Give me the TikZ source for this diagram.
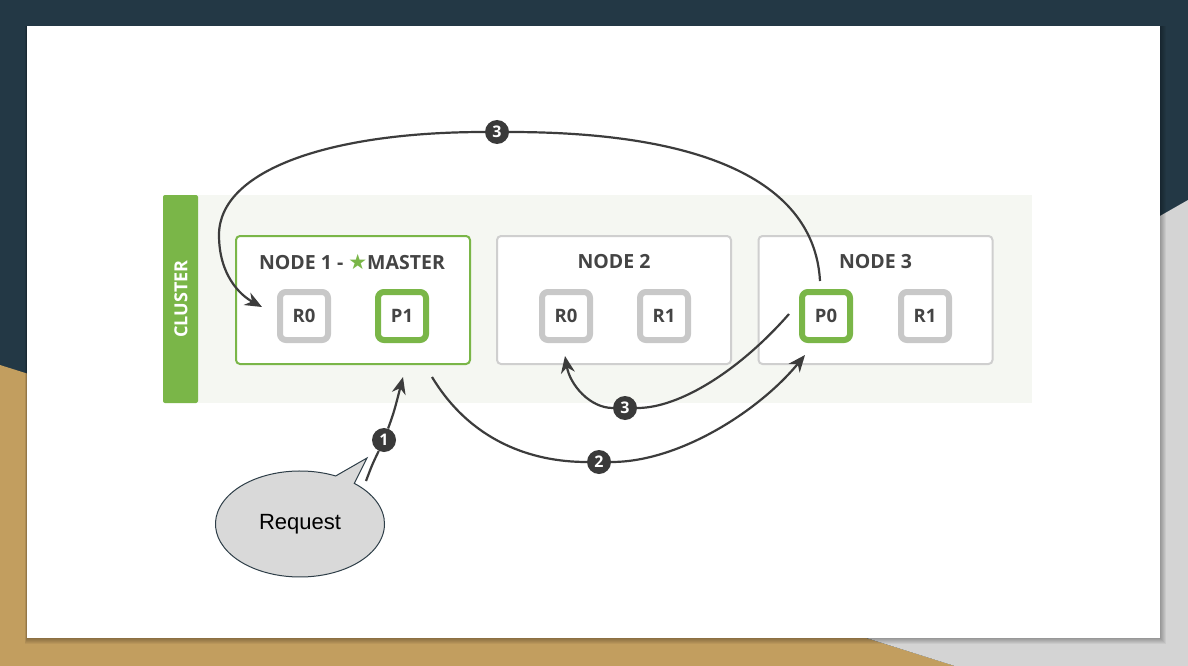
\documentclass[tikz,border=0pt]{standalone}
\usepackage{fontspec}
\setmainfont{Open Sans}
\newfontfamily\reqfont{Liberation Sans}
\newfontfamily\symfont{DejaVu Sans}
\usetikzlibrary{arrows.meta,shapes.callouts}

\definecolor{slidenavy}{HTML}{233845}
\definecolor{slidetan}{HTML}{C29E5F}
\definecolor{slidegray}{HTML}{D4D4D4}
\definecolor{elgreen}{HTML}{7AB648}
\definecolor{boxgray}{HTML}{CFCFCF}
\definecolor{shardgray}{HTML}{C8C8C8}
\definecolor{textgray}{HTML}{444444}
\definecolor{arrowgray}{HTML}{3C3C3C}
\definecolor{badgegray}{HTML}{3A3A3A}
\definecolor{stripbg}{HTML}{F5F7F2}
\definecolor{bubble}{HTML}{D9D9D9}
\definecolor{bubbleline}{HTML}{2E3E48}

\begin{document}
\begin{tikzpicture}[x=1pt, y=-1pt,
  nodebox/.style={draw=boxgray, line width=2pt, fill=white, rounded corners=4pt,
                  minimum width=234pt, minimum height=128pt},
  shard/.style={draw=shardgray, line width=6pt, fill=white, rounded corners=6pt,
                minimum size=48pt, inner sep=0pt, text=textgray,
                font=\bfseries\fontsize{18.5}{18.5}\selectfont},
  primary/.style={shard, draw=elgreen},
  title/.style={text=textgray, font=\bfseries\fontsize{19.5}{19.5}\selectfont},
  badge/.style={circle, fill=badgegray, text=white, inner sep=0pt, minimum size=24pt,
                font=\bfseries\fontsize{16}{16}\selectfont},
  flow/.style={draw=arrowgray, line width=2.2pt, -{Stealth[length=17pt, width=14pt]}}]
  \useasboundingbox (0,0) rectangle (1188,666);

  % slide background
  \fill[slidenavy] (0,0) rectangle (1188,666);
  \fill[slidetan] (0,365) -- (955,666) -- (0,666) -- cycle;
  \fill[slidegray] (1188,200) -- (579,547) -- (955,666) -- (1188,666) -- cycle;
  \foreach \i in {1,...,6} {
    \fill[black, opacity=0.05] (27-\i/3,26) rectangle (1160+\i,638+\i);
  }
  \fill[white] (27,26) rectangle (1160,638);

  % cluster strip
  \fill[stripbg] (198,195) rectangle (1032,403);
  \fill[elgreen, rounded corners=2pt] (163,195) rectangle (198,403);
  \node[rotate=90, text=white, font=\bfseries\fontsize{18}{18}\selectfont] (cl) at (181,299) {CLUSTER};

  % the three nodes
  \node[nodebox, draw=elgreen] (n1) at (353,300) {};
  \node[nodebox] (n2) at (614,300) {};
  \node[nodebox] (n3) at (875.5,300) {};
  \node[title] (t1) at (352,262) {NODE 1 - {\color{elgreen}\symfont\fontsize{21}{21}\selectfont ★}MASTER};
  \node[title] (t2) at (614,262) {NODE 2};
  \node[title] (t3) at (875.5,262) {NODE 3};

  % shards, primaries in green
  \node[shard] (r10) at (304,316) {R0};
  \node[primary] (p11) at (402,316) {P1};
  \node[shard] (r20) at (566,316) {R0};
  \node[shard] (r21) at (664,316) {R1};
  \node[primary] (p30) at (826,316) {P0};
  \node[shard] (r31) at (925,316) {R1};

  % client request
  \node[ellipse callout, callout absolute pointer={(367,458)}, fill=bubble, draw=bubbleline,
        line width=1pt, minimum width=169pt, minimum height=106pt, inner sep=0pt,
        font=\reqfont\fontsize{22}{22}\selectfont] (req) at (300,524) {Request};

  % step badges
  \node[badge] (b1) at (384,440) {1};
  \node[badge] (b2) at (599,462) {2};
  \node[badge] (b3a) at (497,132) {3};
  \node[badge] (b3b) at (625,408) {3};

  % free arrow ends
  \coordinate (s1) at (366,481);
  \coordinate (e1) at (403,377);
  \coordinate (s2) at (432,377);
  \coordinate (e2) at (805,355);
  \coordinate (s3) at (820,281);
  \coordinate (e3) at (262,307);
  \coordinate (s4) at (789,314);
  \coordinate (e4) at (565,356);

  % request flow
  \draw[flow] (s1) .. controls (372,465) .. (b1) .. controls (394,412) .. (e1);
  \draw[flow] (s2) .. controls (470,440) and (530,462) .. (b2)
                   .. controls (680,462) and (760,410) .. (e2);
  \draw[flow] (s3) .. controls (815,190) and (720,132) .. (b3a)
                   .. controls (330,132) and (219,170) .. (219,235)
                   .. controls (219,275) and (240,295) .. (e3);
  \draw[flow] (s4) .. controls (740,370) and (680,408) .. (b3b)
                   .. controls (590,408) and (570,385) .. (e4);
\end{tikzpicture}
\end{document}
